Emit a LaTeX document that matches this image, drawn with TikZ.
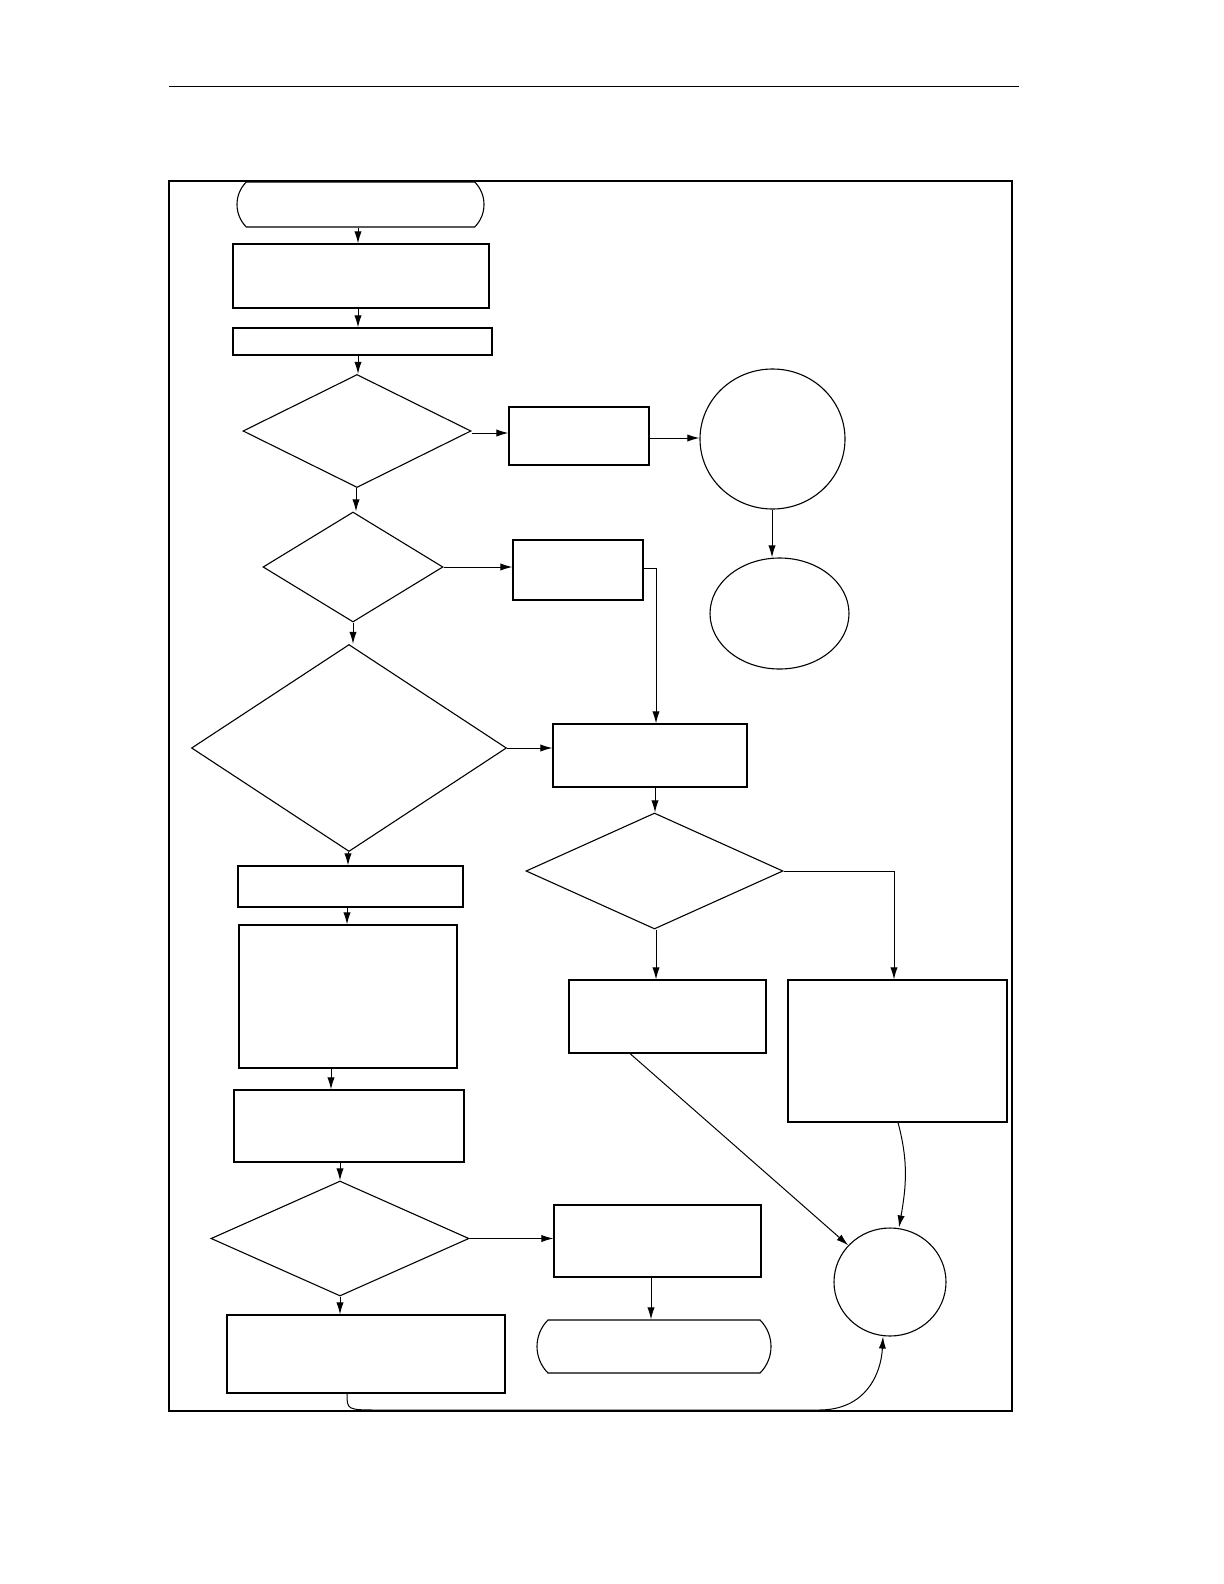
\documentclass[tikz,border=0pt]{standalone}
\usepackage{tikz}
\usetikzlibrary{arrows.meta,calc,positioning,shapes.geometric,shapes.misc}
\tikzset{
  block/.style={draw=black, line width=0.55pt, rectangle, inner sep=0pt},
  decision/.style={draw=black, line width=0.55pt, diamond, inner sep=0pt, aspect=1},
  terminal/.style={draw=black, line width=0.55pt, rounded rectangle, rounded rectangle arc length=90, inner sep=0pt},
  connector/.style={draw=black, line width=0.55pt, ellipse, inner sep=0pt},
  flow/.style={-{Latex[length=6pt,width=3.6pt]}, draw=black, line width=0.5pt},
  frame/.style={draw=black, line width=0.7pt}
}
\begin{document}
\begin{tikzpicture}[x=0.5pt,y=-0.5pt]
  \useasboundingbox (0,0) rectangle (1224,1584);
  \draw[draw=black, line width=0.5pt] (169,87) -- (1019,87);
  \draw[frame] (169,181) rectangle (1012,1411);

  % left column
  \node[terminal, minimum width=123.5pt, minimum height=22.5pt] (start) at (360.5,204.5) {};
  \node[block, minimum width=128pt, minimum height=32pt] (init) at (361,276) {};
  \node[block, minimum width=129.5pt, minimum height=13.5pt] (setup) at (362.5,341.5) {};
  \node[decision, minimum width=114pt, minimum height=56.5pt] (ask1) at (357,431) {};
  \node[decision, minimum width=90pt, minimum height=55pt] (ask2) at (353,567) {};
  \node[decision, minimum width=157.5pt, minimum height=103.5pt] (ask3) at (349,748) {};
  \node[block, minimum width=112.5pt, minimum height=20.5pt] (step1) at (350.5,886.5) {};
  \node[block, minimum width=109pt, minimum height=71.5pt] (step2) at (348,996.5) {};
  \node[block, minimum width=115pt, minimum height=36pt] (step3) at (349,1126) {};
  \node[decision, minimum width=129pt, minimum height=57.5pt] (ask5) at (340,1238.5) {};
  \node[block, minimum width=139pt, minimum height=39pt] (final) at (366,1354) {};

  % right side
  \node[block, minimum width=70pt, minimum height=29pt] (fail1) at (579,436) {};
  \node[connector, minimum width=72.5pt, minimum height=70pt] (exit1) at (772.5,439) {};
  \node[connector, minimum width=69.5pt, minimum height=55.5pt] (exit2) at (779.5,613.5) {};
  \node[block, minimum width=65pt, minimum height=30pt] (fail2) at (578,570) {};
  \node[block, minimum width=97pt, minimum height=31.5pt] (check) at (650,755.5) {};
  \node[decision, minimum width=128.5pt, minimum height=58pt] (ask4) at (654.5,871) {};
  \node[block, minimum width=98.5pt, minimum height=36.5pt] (resA) at (667.5,1016.5) {};
  \node[block, minimum width=109.5pt, minimum height=71pt] (resB) at (897.5,1051) {};
  \node[block, minimum width=103.5pt, minimum height=36pt] (abort) at (657.5,1241) {};
  \node[terminal, minimum width=117pt, minimum height=26.5pt] (stop) at (654,1346.5) {};
  \node[connector, minimum width=56pt, minimum height=54pt] (join) at (890,1282) {};

  % main flow
  \draw[flow] (start.south -| 358,0) -- (init.north -| 358,0);
  \draw[flow] (init.south -| 358,0) -- (setup.north -| 358,0);
  \draw[flow] (setup.south -| 358,0) -- (ask1.north -| 358,0);
  \draw[flow] (ask1.south -| 356,0) -- (ask2.north -| 356,0);
  \draw[flow] (ask2.south -| 353,0) -- (ask3.north -| 353,0);
  \draw[flow] (ask3.south -| 348,0) -- (step1.north -| 348,0);
  \draw[flow] (step1.south -| 347,0) -- (step2.north -| 347,0);
  \draw[flow] (step2.south -| 331,0) -- (step3.north -| 331,0);
  \draw[flow] (step3.south -| 340,0) -- (ask5.north -| 340,0);
  \draw[flow] (ask5.south -| 340,0) -- (final.north -| 340,0);

  % branches
  \draw[flow] (ask1.east |- 0,433) -- (fail1.west |- 0,433);
  \draw[flow] (fail1.east |- 0,438) -- (exit1.west |- 0,438);
  \draw[flow] (exit1.south -| 772,0) -- (exit2.north -| 772,0);
  \draw[flow] (ask2.east) -- (fail2.west |- ask2.east);
  \draw[flow] (fail2.east |- 0,568) -| (check.north -| 656,0);
  \draw[flow] (ask3.east) -- (check.west |- ask3.east);
  \draw[flow] (check.south -| 655,0) -- (ask4.north -| 655,0);
  \draw[flow] (ask4.south -| 656,0) -- (resA.north -| 656,0);
  \draw[flow] (ask4.east) -| (resB.north -| 894,0);
  \draw[flow] (ask5.east) -- (abort.west |- ask5.east);
  \draw[flow] (abort.south -| 651,0) -- (stop.north -| 651,0);
  \draw[flow] (resA.south -| 630,0) -- (join);
  \draw[flow] (resB.south -| 898,0) to[out=-75,in=80] (join.north -| 899,0);
  \draw[flow] (final.south -| 347,0) .. controls (347,1410) .. (380,1410) -- (819,1410)
    .. controls (865,1410) and (881,1375) .. (join.south -| 883,0);
\end{tikzpicture}
\end{document}
